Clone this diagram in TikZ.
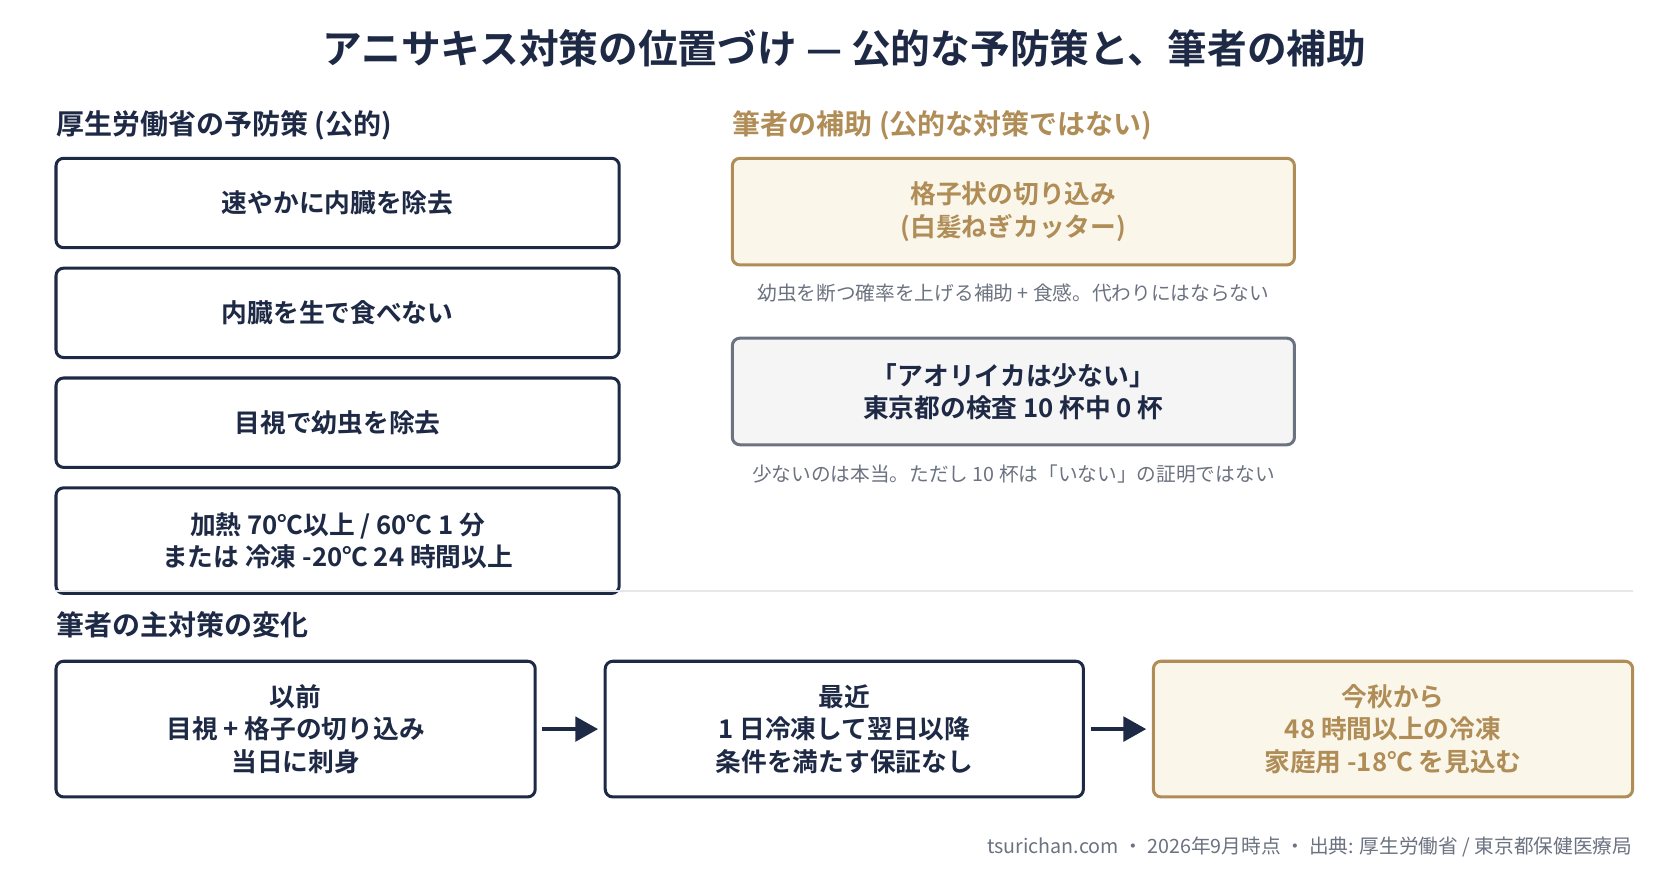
\documentclass[tikz,border=0pt]{standalone}
\usepackage{fontspec}
\setmainfont{Noto Sans CJK JP}[BoldFont={* Bold}]
\usetikzlibrary{arrows.meta}
\definecolor{navy}{HTML}{1E2A45}
\definecolor{gold}{HTML}{B08D57}
\definecolor{goldfill}{HTML}{FAF6EA}
\definecolor{grayb}{HTML}{6B7280}
\definecolor{grayfill}{HTML}{F5F5F5}
\definecolor{sep}{HTML}{E5E7EB}
\tikzset{
 x=0.02cm,y=-0.02cm,
 box/.style={draw=navy,line width=1.6pt,rounded corners=4pt,fill=white,text=navy,font=\bfseries\fontsize{13.6}{17}\selectfont,align=center,inner sep=0pt},
 gbox/.style={box,draw=gold,fill=goldfill,text=gold},
 hbox/.style={box,draw=grayb,fill=grayfill},
 head/.style={anchor=west,font=\bfseries\fontsize{14.8}{16}\selectfont,inner sep=0pt},
 captxt/.style={text=grayb,font=\fontsize{10.4}{12}\selectfont,inner sep=0pt},
 arr/.style={draw=navy,line width=1.8pt,-{Triangle[length=12pt,width=13pt]}}
}
\newcommand{\bx}[6]{\node[#1,minimum width={(#4-#2)*0.02cm},minimum height={(#5-#3)*0.02cm}] (#6) at ({(#2+#4)/2},{(#3+#5)/2})}
\begin{document}
\begin{tikzpicture}
\useasboundingbox (0,0) rectangle (1560,806);
\node[font=\bfseries\fontsize{21}{24}\selectfont,text=navy,inner sep=0pt] (title) at (784,45) {アニサキス対策の位置づけ — 公的な予防策と、筆者の補助};
\node[head,text=navy] (h1) at (52,116) {厚生労働省の予防策 (公的)};
\node[head,text=gold] (h2) at (680,116) {筆者の補助 (公的な対策ではない)};
\bx{box}{52}{147}{575}{230}{a1} {速やかに内臓を除去};
\bx{box}{52}{249}{575}{332}{a2} {内臓を生で食べない};
\bx{box}{52}{351}{575}{434}{a3} {目視で幼虫を除去};
\bx{box}{52}{453}{575}{551}{a4} {加熱 70℃以上 / 60℃ 1 分\\または 冷凍 -20℃ 24 時間以上};
\bx{gbox}{680}{147}{1202}{246}{b1} {格子状の切り込み\\(白髪ねぎカッター)};
\node[captxt] (c1) at (941,272) {幼虫を断つ確率を上げる補助 + 食感。代わりにはならない};
\bx{hbox}{680}{314}{1202}{413}{b2} {「アオリイカは少ない」\\東京都の検査 10 杯中 0 杯};
\node[captxt] (c2) at (941,440) {少ないのは本当。ただし 10 杯は「いない」の証明ではない};
\draw[sep,line width=1pt] (52,549) -- (1516,549);
\node[head,text=navy] (h3) at (52,580) {筆者の主対策の変化};
\bx{box}{52}{614}{497}{740}{d1} {以前\\目視 + 格子の切り込み\\当日に刺身};
\bx{box}{562}{614}{1006}{740}{d2} {最近\\1 日冷凍して翌日以降\\条件を満たす保証なし};
\bx{gbox}{1071}{614}{1516}{740}{d3} {今秋から\\48 時間以上の冷凍\\家庭用 -18℃ を見込む};
\draw[arr] ([xshift=3pt]d1.east) -- ([xshift=-3pt]d2.west);
\draw[arr] ([xshift=3pt]d2.east) -- ([xshift=-3pt]d3.west);
\node[captxt,anchor=east] (foot) at (1516,786) {tsurichan.com ・ 2026年9月時点 ・ 出典: 厚生労働省 / 東京都保健医療局};
\end{tikzpicture}
\end{document}
